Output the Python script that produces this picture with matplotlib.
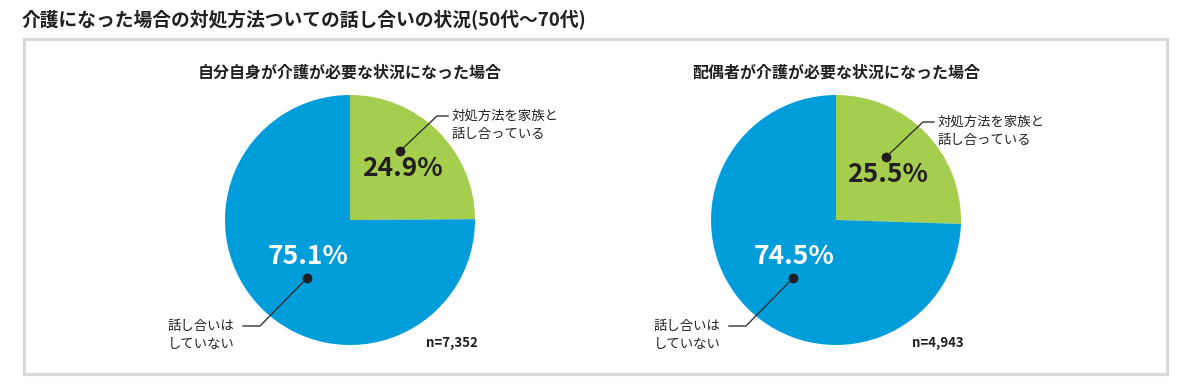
import matplotlib.pyplot as plt
from matplotlib.patches import Rectangle

plt.rcParams['font.family'] = ['Noto Sans CJK JP', 'DejaVu Sans']

W, H = 1189, 386

title = '介護になった場合の対処方法ついての話し合いの状況(50代〜70代)'
subtitles = ['自分自身が介護が必要な状況になった場合', '配偶者が介護が必要な状況になった場合']
labels = ['対処方法を家族と\n話し合っている', '話し合いは\nしていない']
values = [[24.9, 75.1], [25.5, 74.5]]
counts = ['n=7,352', 'n=4,943']

colors = ['#A6CE4E', '#009DDB']
dark = '#231F20'

fig = plt.figure(figsize=(W / 100, H / 100), dpi=100)
ax = fig.add_axes([0, 0, 1, 1])
ax.set_xlim(0, W)
ax.set_ylim(0, H)
ax.set_aspect('equal')
ax.axis('off')


def Y(py):
    return H - py


# outer box
ax.add_patch(Rectangle((23.5, Y(373.5)), 1143, 335, fill=False,
                       edgecolor='#D9D9D9', linewidth=2.3))

ax.text(22, Y(20), title, fontsize=13.5, fontweight='bold', color=dark,
        ha='left', va='center')

centers = [350, 836]
for k, cx in enumerate(centers):
    cy = 220
    ax.pie(values[k], colors=colors, startangle=90, counterclock=False,
           center=(cx, Y(cy)), radius=125, frame=True,
           wedgeprops=dict(linewidth=0))
    ax.text(cx, Y(73), subtitles[k], fontsize=11.5, fontweight='bold',
            color=dark, ha='center', va='center')

    # green label
    g_dot = (cx + 50, 151 + k * 6)
    g_knee = (cx + 87, 116 + k * 6)
    ax.plot([g_dot[0], g_knee[0], g_knee[0] + 11],
            [Y(g_dot[1]), Y(g_knee[1]), Y(g_knee[1])], color='#333333', lw=1)
    ax.plot(g_dot[0], Y(g_dot[1]), 'o', color=dark, ms=6)
    ax.text(cx + 102, Y(g_knee[1] + 9), labels[0], fontsize=9.6, color=dark,
            ha='left', va='center', linespacing=1.45)
    ax.text(cx + 52, Y(169 + k * 6), f'{values[k][0]}%', fontsize=19,
            fontweight='bold', color=dark, ha='center', va='center')

    # blue label
    b_dot = (cx - 43, 278)
    b_knee = (cx - 90, 326)
    ax.plot([b_dot[0], b_knee[0], b_knee[0] - 17],
            [Y(b_dot[1]), Y(b_knee[1]), Y(b_knee[1])], color='#333333', lw=1)
    ax.plot(b_dot[0], Y(b_dot[1]), 'o', color=dark, ms=6)
    ax.text(cx - 182, Y(335), labels[1], fontsize=9.6, color=dark,
            ha='left', va='center', linespacing=1.45)
    ax.text(cx - 42, Y(256), f'{values[k][1]}%', fontsize=19,
            fontweight='bold', color='white', ha='center', va='center')

    ax.text(cx + 76, Y(343), counts[k], fontsize=9.5, fontweight='bold',
            color=dark, ha='left', va='center')

ax.set_xlim(0, W)
ax.set_ylim(0, H)
ax.axis('off')

fig.savefig('out.png', dpi=100)
